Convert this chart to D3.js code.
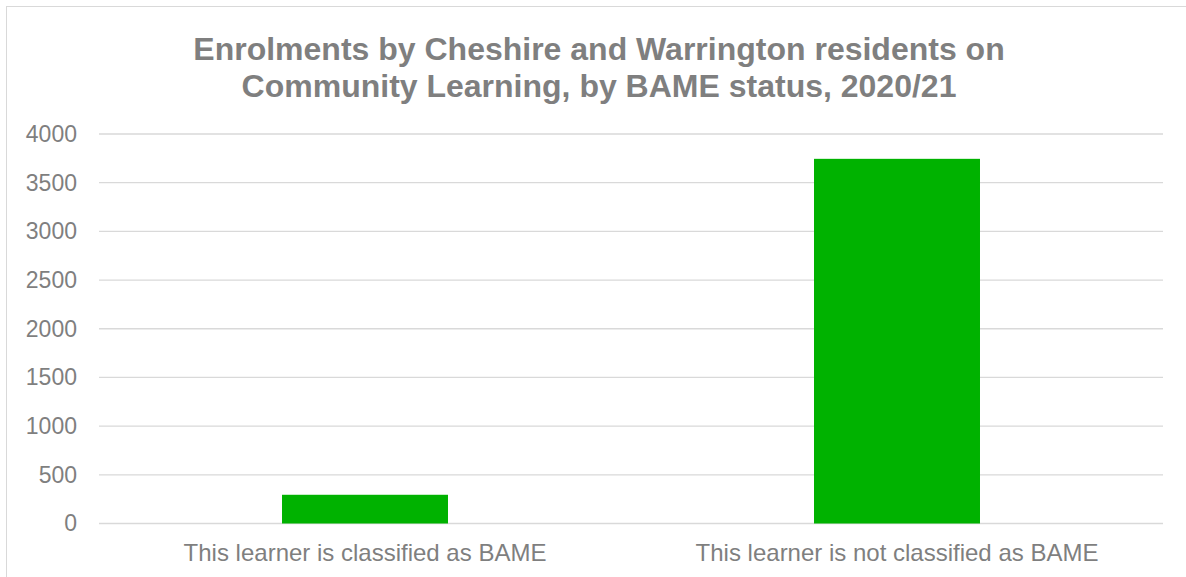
<!DOCTYPE html>
<html><head><meta charset="utf-8">
<script src="https://cdn.jsdelivr.net/npm/d3@7"></script>
<style>html,body{margin:0;padding:0;background:#fff;}svg{display:block;font-family:"Liberation Sans",Arial,sans-serif;}</style>
</head><body>
<svg id="c" width="1186" height="577"></svg>
<script>
const titleLines = ["Enrolments by Cheshire and Warrington residents on", "Community Learning, by BAME status, 2020/21"];
const categories = ["This learner is classified as BAME", "This learner is not classified as BAME"];
const values = [295, 3745];
const yTicks = [0, 500, 1000, 1500, 2000, 2500, 3000, 3500, 4000];

const svg = d3.select("#c");
const m = {left: 99, right: 1163, top: 134, bottom: 523.5};

svg.append("rect").attr("x", 6.5).attr("y", 6.5).attr("width", 1300).attr("height", 700)
  .attr("fill", "#fff").attr("stroke", "#d9d9d9").attr("stroke-width", 1);

const x = d3.scaleBand().domain(categories).range([m.left, m.right]).paddingInner(0.688).paddingOuter(0.344);
const y = d3.scaleLinear().domain([0, 4000]).range([m.bottom, m.top]);

// gridlines
svg.append("g").selectAll("line").data(yTicks).join("line")
  .attr("x1", m.left).attr("x2", m.right)
  .attr("y1", d => y(d)).attr("y2", d => y(d))
  .attr("stroke", "#d9d9d9").attr("stroke-width", 1.3);

// y axis labels
const yAxis = d3.axisLeft(y).tickValues(yTicks).tickSize(0).tickPadding(0).tickFormat(d3.format("d"));
const ya = svg.append("g").attr("transform", `translate(77,0)`).call(yAxis);
ya.select(".domain").remove();
ya.selectAll("text").attr("fill", "#7f7f7f").style("font-size", "23px").attr("font-family", "Liberation Sans, Arial, sans-serif");

// bars
svg.append("g").selectAll("rect").data(values).join("rect")
  .attr("x", (d, i) => x(categories[i]))
  .attr("width", x.bandwidth())
  .attr("y", d => y(d))
  .attr("height", d => y(0) - y(d))
  .attr("fill", "#00b200");

// x axis labels
const xAxis = d3.axisBottom(x).tickSize(0).tickPadding(0);
const xa = svg.append("g").attr("transform", `translate(0,${m.bottom + 37})`).call(xAxis);
xa.select(".domain").remove();
xa.selectAll("text").attr("fill", "#7f7f7f").style("font-size", "24px").attr("dy", 0).attr("font-family", "Liberation Sans, Arial, sans-serif");

// title
svg.append("g").selectAll("text").data(titleLines).join("text")
  .attr("x", 599).attr("y", (d, i) => 60 + i * 37)
  .attr("text-anchor", "middle").attr("fill", "#7f7f7f")
  .style("font-size", "32px").style("font-weight", "bold")
  .text(d => d);
</script>
</body></html>
